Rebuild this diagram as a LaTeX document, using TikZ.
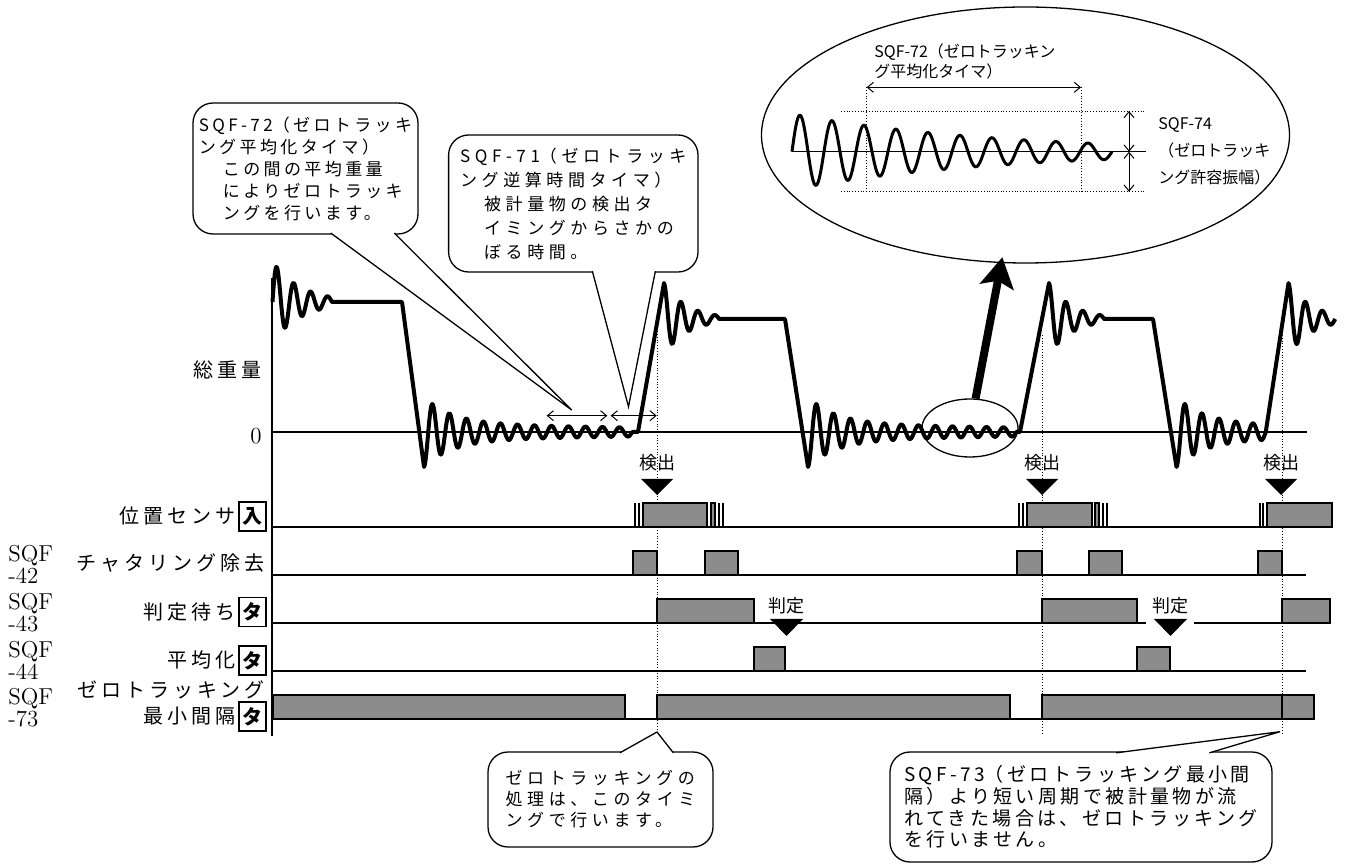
\documentclass[tikz,border=0pt]{standalone}
\usepackage{fontspec}
\newfontfamily\jpfont{Noto Sans CJK JP}
\newfontfamily\jprow[LetterSpace=20]{Noto Sans CJK JP}
\newfontfamily\jpcall[LetterSpace=20]{Noto Sans CJK JP}
\newfontfamily\jpcallw[LetterSpace=27]{Noto Sans CJK JP}
\newfontfamily\jpcallb[LetterSpace=18]{Noto Sans CJK JP}
\usetikzlibrary{arrows.meta, positioning, calc, shapes.geometric}

\begin{document}
\begin{tikzpicture}[
    x=0.5pt, y=-0.5pt,
    sig/.style={line width=2pt, line join=round},
    thinsig/.style={line width=1.5pt, line join=round},
    axis/.style={line width=0.7pt},
    busy/.style={draw, line width=0.7pt, fill=black!45},
    chatter/.style={line width=0.6pt},
    guide/.style={densely dotted, line width=0.4pt},
    dim/.style={{Straight Barb[length=3pt,width=5pt]}-{Straight Barb[length=3pt,width=5pt]}, line width=0.5pt},
    eventtag/.style={font=\jpfont\fontsize{9}{10}\selectfont, inner sep=0pt},
    rowlabel/.style={font=\jprow\fontsize{10}{12}\selectfont, inner sep=0pt, anchor=east},
    sqf/.style={font=\fontsize{11.5}{9.5}\selectfont, align=left, inner sep=0pt, anchor=west},
    kind/.style={draw, line width=0.9pt, font=\jpfont\bfseries\fontsize{10}{10}\selectfont, minimum width=13.5pt, minimum height=14.5pt, inner sep=0pt},
    callout/.style={draw, fill=white, rounded corners=10pt, line width=0.65pt, align=left, inner sep=0pt, font=\jpcall\fontsize{8.5}{11}\selectfont},
    pointer/.style={line width=0.65pt},
    note/.style={font=\jpfont\fontsize{8}{10}\selectfont, align=left, inner sep=0pt, anchor=west},
    lens/.style={draw, ellipse, inner sep=0pt, line width=0.65pt},
    bigarrow/.style={-{Stealth[length=15pt, width=17pt, inset=3pt]}, line width=4pt, shorten >=-3pt}
]
\useasboundingbox (0,0) rectangle (1351,865);

% Axes and row base lines
\draw[axis] (272,278) -- (272,736);
\draw[axis] (272,432) -- (1307,432);
\draw[axis] (272,527) -- (1267,527);
\draw[axis] (272,575) -- (1306,575);
\draw[axis] (272,623) -- (1146,623) (1194,623) -- (1282,623);
\draw[axis] (272,671) -- (1306,671);
\draw[axis] (272,719) -- (1314,719);

% Detection timing guides
\draw[guide] (657,320) -- (657,733);
\draw[guide] (1042,335) -- (1042,733);
\draw[guide] (1282,335) -- (1282,733);

% Gross weight signal (21.1765 = 360/17 degrees per px)
\draw[sig] plot[domain=272.5:332, samples=80] (\x, {302-35*exp(-(\x-276.75)/28)*cos(21.1765*(\x-276.75))})
  -- (402,302) -- (424,467)
  -- plot[domain=424:632.25, samples=280] (\x, {432+(26*exp(-(\x-424)/28)+9*exp(-(\x-424)/300))*cos(21.1765*(\x-424))})
  -- (638,432) -- (664,283)
  -- plot[domain=664:719.25, samples=80] (\x, {319-36*exp(-(\x-664)/23)*cos(21.1765*(\x-664))})
  -- (785,319) -- (808,467)
  -- plot[domain=808:1016.25, samples=280] (\x, {432+(26*exp(-(\x-808)/28)+9*exp(-(\x-808)/300))*cos(21.1765*(\x-808))})
  -- (1020,432) -- (1049,283)
  -- plot[domain=1049:1104.25, samples=80] (\x, {319-36*exp(-(\x-1049)/23)*cos(21.1765*(\x-1049))})
  -- (1153,319) -- (1176.5,467)
  -- plot[domain=1176.5:1265.75, samples=130] (\x, {432+(26*exp(-(\x-1176.5)/28)+9*exp(-(\x-1176.5)/300))*cos(21.1765*(\x-1176.5))})
  -- (1288.5,283)
  -- plot[domain=1288.5:1335.25, samples=70] (\x, {319-36*exp(-(\x-1288.5)/23)*cos(21.1765*(\x-1288.5))});

% Timer spans on the signal
\coordinate (avg0) at (546.7,415.7);
\coordinate (avg1) at (607.3,415.7);
\coordinate (back0) at (610.7,415.7);
\coordinate (back1) at (656.7,415.7);
\draw[dim] (avg0) -- (avg1);
\draw[dim] (back0) -- (back1);

% Row labels
\node[rowlabel] (total) at (262,370) {総重量};
\node[font=\fontsize{11.5}{11}\selectfont, inner sep=0pt, anchor=east] (zero) at (262,436) {0};
\node[rowlabel] (pos) at (236,516) {位置センサ};
\node[kind] (posin) at (252.5,516.5) {入};
\node[sqf] (s42) at (8,564) {SQF\\-42};
\node[rowlabel] (chat) at (265,563) {チャタリング除去};
\node[sqf] (s43) at (8,613) {SQF\\-43};
\node[rowlabel] (wait) at (236,612) {判定待ち};
\node[kind] (waitt) at (252.5,612) {タ};
\node[sqf] (s44) at (8,660) {SQF\\-44};
\node[rowlabel] (avg) at (236,660) {平均化};
\node[kind] (avgt) at (252.5,660.5) {タ};
\node[sqf] (s73) at (8,707.5) {SQF\\-73};
\node[rowlabel] (minz) at (265,690) {ゼロトラッキング};
\node[rowlabel] (mint) at (236,716) {最小間隔};
\node[kind] (mintt) at (252.5,716.5) {タ};

% Position sensor with chattering
\draw[chatter] (635,503) -- (635,527) (639,503) -- (639,527) (719,503) -- (719,527) (723,503) -- (723,527)
  (1019,503) -- (1019,527) (1023,503) -- (1023,527) (1103,503) -- (1103,527) (1107,503) -- (1107,527)
  (1260,503) -- (1260,527) (1263,503) -- (1263,527);
\draw[busy] (643,503) rectangle (707,527) (711,503) rectangle (715,527)
  (1027,503) rectangle (1092,527) (1095,503) rectangle (1099,527) (1267,503) rectangle (1332,527);

% Timer rows
\draw[busy] (633,551) rectangle (657,575) (705,551) rectangle (738,575) (1017,551) rectangle (1042,575)
  (1089,551) rectangle (1122,575) (1258,551) rectangle (1282,575);
\draw[busy] (657,599) rectangle (754,623) (1042,599) rectangle (1137,623) (1282,599) rectangle (1330,623);
\draw[busy] (754,647) rectangle (785,671) (1137,647) rectangle (1170,671);
\draw[busy] (273,695) rectangle (625,719) (657,695) rectangle (1010,719) (1042,695) rectangle (1282,719)
  (1282,695) rectangle (1314,719);

% Detection and judgement marks
\node[eventtag] (det1) at (657,463) {検出};
\node[eventtag] (det2) at (1042,463) {検出};
\node[eventtag] (det3) at (1281,463) {検出};
\fill (641,479) -- (673,479) -- (657,495) -- cycle;
\fill (1026,479) -- (1058,479) -- (1042,495) -- cycle;
\fill (1265,479) -- (1297,479) -- (1281,495) -- cycle;
\node[eventtag] (judge1) at (786,606) {判定};
\node[eventtag] (judge2) at (1170,606) {判定};
\fill (770,619) -- (803,619) -- (786.5,636) -- cycle;
\fill (1154,619) -- (1187,619) -- (1170.5,636) -- cycle;

% Magnified view
\node[lens, minimum width=264pt, minimum height=128pt] (magnifier) at (1025.5,135) {};
\node[lens, minimum width=48pt, minimum height=29pt] (spot) at (970,428) {};
\draw[bigarrow] (spot) -- (magnifier);
\node[note] (avgnote) at (874,61.7) {SQF-72（ゼロトラッキン\\グ平均化タイマ）};
\draw[guide] (866.7,87.3) -- (866.7,191.7) (1081,87.3) -- (1081,191.7);
\draw[guide] (841,111) -- (1144,111) (841,191.7) -- (1144,191.7);
\draw[line width=0.6pt] (792,151.7) -- (1146,151.7);
\coordinate (w0) at (866.7,87.3);
\coordinate (w1) at (1081,87.3);
\draw[dim] (w0) -- (w1);
\coordinate (amp0) at (1129,111);
\coordinate (amp1) at (1129,151.7);
\coordinate (amp2) at (1129,191.7);
\draw[dim] (amp0) -- (amp1);
\draw[dim] (amp1) -- (amp2);
\draw[thinsig] plot[domain=792:1112, samples=320] (\x, {151.7-38*exp(-(\x-792)/200)*sin(11.25*(\x-792))});
\node[note, font=\jpfont\fontsize{8}{13.5}\selectfont] (ampnote) at (1158,151) {SQF-74\\（ゼロトラッキ\\ング許容振幅）};

% Callouts
\node[callout, minimum width=112.5pt, minimum height=65.5pt] (note72) at (305.5,168.5)
  {\mbox{SQF-72}（ゼロトラッキ\\ング平均化タイマ）\\ \hspace*{12pt}この間の平均重量\\ \hspace*{12pt}によりゼロトラッキ\\ \hspace*{12pt}ングを行います。};
\coordinate (tip72) at (571.7,410);
\fill[white] ($(note72.south west)+(138.5,-1.5)$) -- (tip72) -- ($(note72.south west)+(202,-1.5)$) -- cycle;
\draw[pointer] ($(note72.south west)+(138.5,-1.5)$) -- (tip72) -- ($(note72.south west)+(202,-1.5)$);

\node[callout, minimum width=124.7pt, minimum height=68.5pt, font=\jpcallw\fontsize{8.5}{12}\selectfont] (note71) at (573.3,203.5)
  {\mbox{SQF-71}（ゼロトラッキ\\ング逆算時間タイマ）\\ \hspace*{12pt}被計量物の検出タ\\ \hspace*{12pt}イミングからさかの\\ \hspace*{12pt}ぼる時間。};
\coordinate (tip71) at (628.5,406.7);
\fill[white] ($(note71.south west)+(144.4,-1.5)$) -- (tip71) -- ($(note71.south west)+(207.4,-1.5)$) -- cycle;
\draw[pointer] ($(note71.south west)+(144.4,-1.5)$) -- (tip71) -- ($(note71.south west)+(207.4,-1.5)$);

\node[callout, minimum width=112.5pt, minimum height=47.5pt, font=\jpcallw\fontsize{8.5}{10.5}\selectfont] (noteproc) at (600.5,799.5)
  {ゼロトラッキングの\\処理は、このタイミ\\ングで行います。};
\coordinate (tipproc) at (657,732);
\fill[white] ($(noteproc.north west)+(132.5,1.5)$) -- (tipproc) -- ($(noteproc.north west)+(186,1.5)$) -- cycle;
\draw[pointer] ($(noteproc.north west)+(132.5,1.5)$) -- (tipproc) -- ($(noteproc.north west)+(186,1.5)$);

\node[callout, minimum width=191pt, minimum height=55pt, font=\jpcallb\fontsize{9.5}{10.8}\selectfont] (note73) at (1081,807)
  {\mbox{SQF-73}（ゼロトラッキング最小間\\隔）より短い周期で被計量物が流\\れてきた場合は、ゼロトラッキング\\を行いません。};
\coordinate (tip73) at (1280,731.7);
\fill[white] ($(note73.north west)+(226.7,1.5)$) -- (tip73) -- ($(note73.north west)+(320,1.5)$) -- cycle;
\draw[pointer] ($(note73.north west)+(226.7,1.5)$) -- (tip73) -- ($(note73.north west)+(320,1.5)$);

\end{tikzpicture}
\end{document}
